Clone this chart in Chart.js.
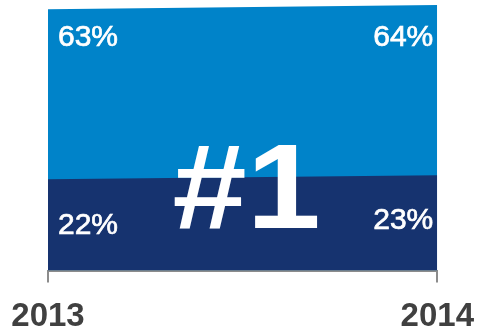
<!DOCTYPE html>
<html>
<head>
<meta charset="utf-8">
<script src="https://cdn.jsdelivr.net/npm/chart.js@4.4.0/dist/chart.umd.min.js"></script>
<style>
  html, body { margin: 0; padding: 0; background: #fff; }
  #wrap { width: 479px; height: 336px; }
</style>
</head>
<body>
<div id="wrap"><canvas id="rankChart" width="479" height="336"></canvas></div>
<script>
// years on the x axis
const years = ["2013", "2014"];

// share values (%) - the two areas overlap, they are not stacked
const totalShare = [63, 64];
const coreShare = [22, 23];

const labelFont = "'Liberation Sans', Arial, sans-serif";

// draws the % labels and the big "#1" on top of the areas
const overlayText = {
  id: 'overlayText',
  afterDatasetsDraw(chart) {
    const { ctx, chartArea, scales } = chart;
    const x = scales.x, y = scales.y;
    ctx.save();
    ctx.fillStyle = '#ffffff';
    ctx.strokeStyle = '#ffffff';
    ctx.lineWidth = 0.7;
    ctx.textBaseline = 'middle';
    ctx.font = '30px ' + labelFont;

    years.forEach((yr, i) => {
      const px = x.getPixelForValue(i);
      ctx.textAlign = i === 0 ? 'left' : 'right';
      const lx = i === 0 ? px + 10 : px - 4;
      const ty = chartArea.top + 33;
      const by = y.getPixelForValue(coreShare[i]) + 46;
      ctx.fillText(totalShare[i] + '%', lx, ty);
      ctx.strokeText(totalShare[i] + '%', lx, ty);
      ctx.fillText(coreShare[i] + '%', lx, by);
      ctx.strokeText(coreShare[i] + '%', lx, by);
    });

    // big "#1", a bit wider than the stock bold face
    const cx = (chartArea.left + chartArea.right) / 2 + 4;
    ctx.translate(cx, 228);
    ctx.scale(1.1, 1);
    ctx.textAlign = 'center';
    ctx.textBaseline = 'alphabetic';
    ctx.font = 'bold 121px ' + labelFont;
    ctx.fillText('#1', 0, 0);
    ctx.restore();
  }
};

const ctx = document.getElementById('rankChart').getContext('2d');
new Chart(ctx, {
  type: 'line',
  data: {
    labels: years,
    datasets: [
      {
        label: 'Core',
        data: coreShare,
        backgroundColor: '#16336f',
        borderColor: '#16336f',
        borderWidth: 0,
        fill: 'origin',
        pointRadius: 0,
        order: 0
      },
      {
        label: 'Total',
        data: totalShare,
        backgroundColor: '#0083c9',
        borderColor: '#0083c9',
        borderWidth: 0,
        fill: 'origin',
        pointRadius: 0,
        order: 1
      }
    ]
  },
  options: {
    responsive: false,
    animation: false,
    layout: { padding: { left: 48, right: 41, top: 5, bottom: -16 } },
    plugins: {
      legend: { display: false },
      tooltip: { enabled: false }
    },
    scales: {
      x: {
        offset: false,
        grid: {
          display: true,
          drawOnChartArea: false,
          drawTicks: true,
          tickLength: 12,
          color: '#8c8c8c',
          lineWidth: 2
        },
        border: { display: true, color: '#8c8c8c', width: 2 },
        ticks: {
          color: '#404040',
          padding: 5,
          maxRotation: 0,
          font: { family: labelFont, size: 33, weight: 'bold', lineHeight: 1.8 }
        }
      },
      y: {
        display: false,
        min: 0,
        max: 64
      }
    }
  },
  plugins: [overlayText]
});
</script>
</body>
</html>
